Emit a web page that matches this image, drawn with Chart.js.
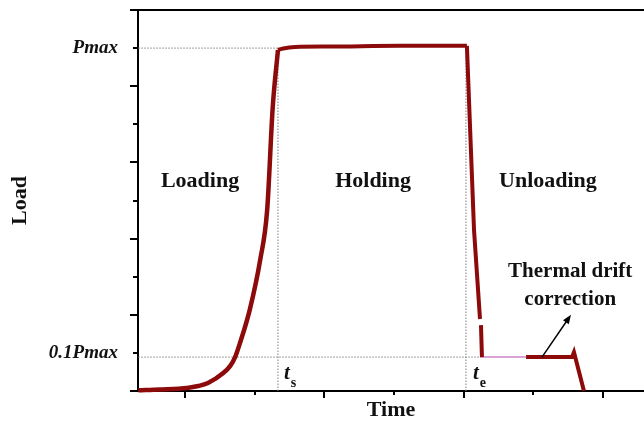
<!DOCTYPE html>
<html><head><meta charset="utf-8">
<script src="https://cdn.jsdelivr.net/npm/chart.js@4.4.1/dist/chart.umd.min.js"></script>
<style>html,body{margin:0;padding:0;background:#fff;}#wrap{width:644px;height:422px;}</style>
</head><body><div id="wrap"><canvas id="c" width="644" height="422"></canvas></div>
<script>
// ---- data (time in arbitrary units, load in units where Pmax = 9) ----
const loadingT = [0.33, 0.64, 1.03, 1.19, 1.33, 1.55, 1.65, 1.72, 1.79, 1.93, 2.08, 2.18, 2.26, 2.335];
const loadingP = [0.02, 0.04, 0.08, 0.13, 0.21, 0.47, 0.66, 0.89, 1.26, 2.13, 3.44, 4.75, 7.45, 8.95];
const holdingT = [2.335, 2.41, 2.58, 3.08, 4.08, 5.047];
const holdingP = [8.95, 8.99, 9.03, 9.04, 9.06, 9.06];
const unloadingT = [5.047, 5.149, 5.235, null, 5.249, 5.263];
const unloadingP = [9.06, 4.23, 1.89, null, 1.73, 0.89];
const driftGapT = [5.263, 5.896];
const driftGapP = [0.89, 0.89];
const driftT = [5.896, 6.556, 6.584, 6.727];
const driftP = [0.89, 0.89, 1.02, 0.0];
const pmaxGuideT = [0.33, 2.335];   const pmaxGuideP = [9, 9];
const tsGuideT = [2.335, 2.335];    const tsGuideP = [0, 8.95];
const teGuideT = [5.033, 5.033];    const teGuideP = [0, 9.06];
const lowGuideT = [0.33, 5.263];    const lowGuideP = [0.89, 0.89];
const arrowT = [6.125, 6.541];      const arrowP = [0.89, 2.0];
const yTickValues = [0,1,2,3,4,5,6,7,8,9,10];
const yTickLabels = {1: '0.1Pmax', 9: 'Pmax'};
const xTickValues = [1,2,3,4,5,6,7];
const regionLabels = ['Loading', 'Holding', 'Unloading'];
const regionLabelT = [1.216, 3.70, 6.21];
const regionLabelP = 5.354;
const noteLines = ['Thermal drift', 'correction'];
const noteT = 6.53;  const noteP = [3.0, 2.27];
const tsLabelT = 2.421, teLabelT = 5.134, tLabelP = 0.31;

const pts = (xs, ys) => xs.map((v, i) => ({x: v, y: ys[i]}));
const RED = '#8c0a0a';
const SERIF = '"Liberation Serif", "Times New Roman", serif';
const guide = (xs, ys) => ({data: pts(xs, ys), borderColor: '#808080', borderWidth: 1, borderDash: [1.5, 1.5], pointRadius: 0, tension: 0, clip: false});

const deco = {
  id: 'deco',
  afterDraw(chart) {
    const {ctx, scales: {x, y}, chartArea: ca} = chart;
    ctx.save();
    ctx.strokeStyle = '#000'; ctx.lineWidth = 2;
    ctx.beginPath(); ctx.moveTo(ca.left - 8, ca.top); ctx.lineTo(ca.right, ca.top); ctx.stroke();
    yTickValues.forEach(v => {
      const py = Math.round(y.getPixelForValue(v));
      const len = v % 2 === 0 ? 8 : 5;
      ctx.beginPath(); ctx.moveTo(ca.left - len, py); ctx.lineTo(ca.left, py); ctx.stroke();
    });
    xTickValues.forEach(v => {
      const px = Math.round(x.getPixelForValue(v));
      const len = v % 2 === 1 ? 7 : 4;
      ctx.beginPath(); ctx.moveTo(px, ca.bottom); ctx.lineTo(px, ca.bottom + len); ctx.stroke();
    });
    // arrow
    const x0 = x.getPixelForValue(arrowT[0]), y0 = y.getPixelForValue(arrowP[0]);
    const x1 = x.getPixelForValue(arrowT[1]), y1 = y.getPixelForValue(arrowP[1]);
    const ang = Math.atan2(y1 - y0, x1 - x0);
    ctx.lineWidth = 1.5;
    ctx.beginPath(); ctx.moveTo(x0, y0); ctx.lineTo(x1 - 6 * Math.cos(ang), y1 - 6 * Math.sin(ang)); ctx.stroke();
    ctx.fillStyle = '#000';
    ctx.beginPath();
    ctx.moveTo(x1, y1);
    ctx.lineTo(x1 - 9 * Math.cos(ang) + 3.5 * Math.sin(ang), y1 - 9 * Math.sin(ang) - 3.5 * Math.cos(ang));
    ctx.lineTo(x1 - 9 * Math.cos(ang) - 3.5 * Math.sin(ang), y1 - 9 * Math.sin(ang) + 3.5 * Math.cos(ang));
    ctx.closePath(); ctx.fill();
    // region labels
    ctx.fillStyle = '#111';
    ctx.textAlign = 'center'; ctx.textBaseline = 'alphabetic';
    ctx.font = 'bold 22px ' + SERIF;
    regionLabels.forEach((t, i) => ctx.fillText(t, x.getPixelForValue(regionLabelT[i]), y.getPixelForValue(regionLabelP)));
    ctx.font = 'bold 21px ' + SERIF;
    noteLines.forEach((t, i) => ctx.fillText(t, x.getPixelForValue(noteT), y.getPixelForValue(noteP[i])));
    // t_s, t_e
    ctx.textAlign = 'left';
    [[tsLabelT, 's'], [teLabelT, 'e']].forEach(([tv, sub]) => {
      const px = x.getPixelForValue(tv), py = y.getPixelForValue(tLabelP);
      ctx.font = 'bold italic 21px ' + SERIF;
      ctx.fillText('t', px, py);
      const w = ctx.measureText('t').width;
      ctx.font = 'bold 14px ' + SERIF;
      ctx.fillText(sub, px + w + 1, py + 8);
    });
    ctx.restore();
  }
};

new Chart(document.getElementById('c'), {
  type: 'line',
  data: {
    datasets: [
      {data: pts(loadingT, loadingP), borderColor: RED, borderWidth: 4.5, pointRadius: 0, cubicInterpolationMode: 'monotone', clip: false},
      {data: pts(holdingT, holdingP), borderColor: RED, borderWidth: 4, pointRadius: 0, cubicInterpolationMode: 'monotone', clip: false},
      {data: pts(unloadingT, unloadingP), borderColor: RED, borderWidth: 4, pointRadius: 0, tension: 0, spanGaps: false, clip: false},
      {data: pts(driftGapT, driftGapP), borderColor: '#d9a3d6', borderWidth: 2, pointRadius: 0, tension: 0, clip: false},
      {data: pts(driftT, driftP), borderColor: RED, borderWidth: 4, pointRadius: 0, tension: 0, borderJoinStyle: 'miter', clip: false},
      guide(pmaxGuideT, pmaxGuideP),
      guide(tsGuideT, tsGuideP),
      guide(teGuideT, teGuideP),
      guide(lowGuideT, lowGuideP)
    ]
  },
  options: {
    responsive: false,
    animation: false,
    devicePixelRatio: 1,
    layout: {padding: {top: 10, right: 0, left: 0, bottom: 0}},
    plugins: {legend: {display: false}, tooltip: {enabled: false}},
    scales: {
      x: {
        type: 'linear', min: 0.326, max: 7.589,
        afterBuildTicks: s => { s.ticks = xTickValues.map(v => ({value: v})); },
        afterFit: s => { s.height = 31; s.paddingLeft = 0; s.paddingRight = 0; },
        ticks: {display: false},
        grid: {display: true, drawOnChartArea: false, drawTicks: false},
        border: {display: true, color: '#000', width: 2},
        title: {display: true, text: 'Time', color: '#111', font: {family: SERIF, size: 22, weight: 'bold', lineHeight: 1}, padding: {top: 0, bottom: 1}}
      },
      y: {
        type: 'linear', min: 0, max: 10,
        afterBuildTicks: s => { s.ticks = yTickValues.map(v => ({value: v})); },
        afterFit: s => { s.width = 138; s.paddingTop = 0; s.paddingBottom = 0; },
        ticks: {autoSkip: false, padding: 20, color: '#111', callback: v => yTickLabels[v] || '',
          font: {family: SERIF, size: 19, weight: 'bold', style: 'italic'}},
        grid: {display: true, drawOnChartArea: false, drawTicks: false},
        border: {display: true, color: '#000', width: 2},
        title: {display: true, text: 'Load', color: '#111', font: {family: SERIF, size: 22, weight: 'bold', lineHeight: 1}, padding: {top: 9, bottom: 0}}
      }
    }
  },
  plugins: [deco]
});
</script>
</body></html>
